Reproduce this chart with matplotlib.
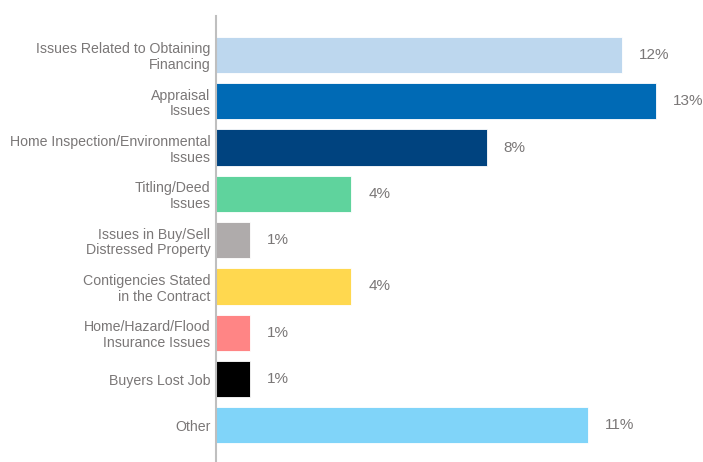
import matplotlib
matplotlib.use("Agg")
import matplotlib.pyplot as plt
import numpy as np

# data
categories = [
    "Issues Related to Obtaining\nFinancing",
    "Appraisal\nIssues",
    "Home Inspection/Environmental\nIssues",
    "Titling/Deed\nIssues",
    "Issues in Buy/Sell\nDistressed Property",
    "Contigencies Stated\nin the Contract",
    "Home/Hazard/Flood\nInsurance Issues",
    "Buyers Lost Job",
    "Other",
]
values = [12, 13, 8, 4, 1, 4, 1, 1, 11]
bar_colors = ["#BDD7EE", "#006AB5", "#00437F", "#5FD39D", "#AFABAB",
              "#FFD84F", "#FF8585", "#000000", "#80D4F9"]

TEXT_C = "#7A7777"
plt.rcParams["font.family"] = ["Liberation Sans", "DejaVu Sans"]

fig = plt.figure(figsize=(7.03, 4.62), dpi=100)
ax = fig.add_axes([216 / 703, 0.0, 487 / 703, 1 - 16 / 462])

y = np.arange(len(categories))
ax.barh(y, values, height=0.78, color=bar_colors, edgecolor="white", linewidth=0.6)

ax.set_ylim(8.79, -0.84)
ax.set_xlim(0, 487 / 33.85)

ax.set_yticks(y)
ax.set_yticklabels(categories, fontsize=10.2, color=TEXT_C, linespacing=1.15,
                   multialignment="right")
ax.tick_params(axis="y", length=0, pad=4)
ax.set_xticks([])

for sp in ["top", "right", "bottom"]:
    ax.spines[sp].set_visible(False)
ax.spines["left"].set_color("#BFBFBF")
ax.spines["left"].set_linewidth(1.5)

for yi, v in zip(y, values):
    ax.annotate(f"{v}%", xy=(v, yi), xytext=(17, 0), textcoords="offset pixels",
                va="center", ha="left", fontsize=11, color=TEXT_C)

fig.savefig("out.png", dpi=100)
